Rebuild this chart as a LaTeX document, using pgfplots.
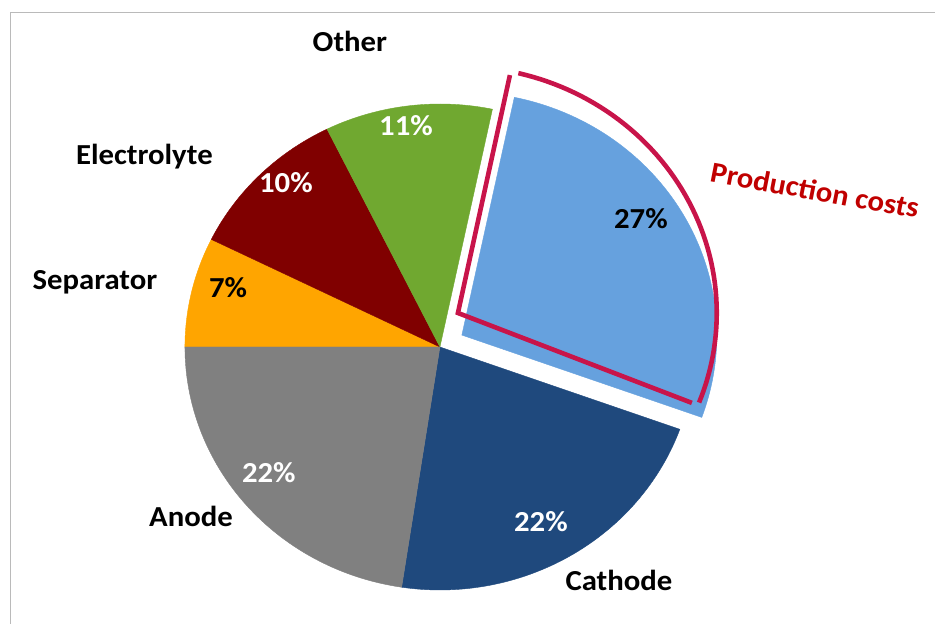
\documentclass[border=0pt]{standalone}
\usepackage{pgfplots}
\pgfplotsset{compat=1.18}
\usepackage{fontspec}
\setmainfont{Carlito}
\definecolor{cSep}{HTML}{FFA500}
\definecolor{cEle}{HTML}{800000}
\definecolor{cOth}{HTML}{70A830}
\definecolor{cPro}{HTML}{66A1DE}
\definecolor{cCat}{HTML}{1F497D}
\definecolor{cAno}{HTML}{808080}
\definecolor{cRed}{HTML}{C8144A}
\definecolor{cTxt}{HTML}{C00000}
% shares in percent (rounded labels: 7, 10, 11, 27, 22, 22)
\def\vSep{7.3}\def\vEle{10.4}\def\vOth{10.6}\def\vPro{27.2}\def\vCat{21.9}\def\vAno{22.6}
\pgfmathsetmacro\aA{180}
\pgfmathsetmacro\aB{\aA-3.6*\vSep}
\pgfmathsetmacro\aC{\aB-3.6*\vEle}
\pgfmathsetmacro\aD{\aC-3.6*\vOth}
\pgfmathsetmacro\aE{\aD-3.6*\vPro}
\pgfmathsetmacro\aF{\aE-3.6*\vCat}
\pgfmathsetmacro\aG{\aF-3.6*\vAno}
\tikzset{lab/.style={font=\bfseries\fontsize{14.5}{17}\selectfont, anchor=base, xscale=1.06, transform shape}}
\begin{document}
\begin{tikzpicture}[x=1pt,y=1pt]
\useasboundingbox (0,0) rectangle (467.5,311.5);
\clip (0,0) rectangle (467.5,311.5);
\begin{axis}[
  at={(5.25pt,305.25pt)}, anchor=north west,
  x=127.5pt, y=121.5pt,
  xmin=-1.684, xmax=2.1, ymin=-1.4, ymax=1.3765,
  xtick=\empty, ytick=\empty,
  axis line style={draw=black!27, line width=0.75pt},
  clip=false,
]
% wedges
\addplot[fill=cSep, draw=cSep, line width=0.2pt, domain=\aB:\aA, samples=40, variable=\t] ({cos(\t)},{sin(\t)}) -- (axis cs:0,0) -- cycle;
\addplot[fill=cEle, draw=cEle, line width=0.2pt, domain=\aC:\aB, samples=40, variable=\t] ({cos(\t)},{sin(\t)}) -- (axis cs:0,0) -- cycle;
\addplot[fill=cOth, draw=cOth, line width=0.2pt, domain=\aD:\aC, samples=40, variable=\t] ({cos(\t)},{sin(\t)}) -- (axis cs:0,0) -- cycle;
\addplot[fill=cCat, draw=cCat, line width=0.2pt, domain=\aF:\aE, samples=60, variable=\t] ({cos(\t)},{sin(\t)}) -- (axis cs:0,0) -- cycle;
\addplot[fill=cAno, draw=cAno, line width=0.2pt, domain=\aG:\aF, samples=60, variable=\t] ({cos(\t)},{sin(\t)}) -- (axis cs:0,0) -- cycle;
% exploded wedge
\addplot[fill=cPro, draw=cPro, line width=0.2pt, domain=\aE:\aD, samples=80, variable=\t] ({0.086+cos(\t)},{0.049+sin(\t)}) -- (axis cs:0.086,0.049) -- cycle;
% red outline
\addplot[cRed, line width=2.3pt, line join=miter] coordinates {(0.2745,1.119) (0.0706,0.140) (0.988,-0.230)};
\addplot[cRed, line width=2.3pt, domain=-21.3:76.5, samples=60, variable=\t] ({0.0706+1.015*cos(\t)},{0.140+1.015*sin(\t)});
% labels
\node[lab] at (axis cs:-0.353,1.214) {Other};
\node[lab] at (axis cs:-1.159,0.753) {Electrolyte};
\node[lab] at (axis cs:-1.353,0.235) {Separator};
\node[lab] at (axis cs:-0.976,-0.737) {Anode};
\node[lab] at (axis cs:0.702,-1.0) {Cathode};
\node[lab, white] at (axis cs:-0.133,0.872) {11\%};
\node[lab, white] at (axis cs:-0.604,0.634) {10\%};
\node[lab] at (axis cs:-0.831,0.202) {7\%};
\node[lab] at (axis cs:0.788,0.486) {27\%};
\node[lab, white] at (axis cs:-0.671,-0.556) {22\%};
\node[lab, white] at (axis cs:0.396,-0.761) {22\%};
\node[lab, anchor=center, text=cTxt, rotate=-10.5] at (axis cs:1.471,0.646) {Production costs};
\end{axis}
\end{tikzpicture}
\end{document}
